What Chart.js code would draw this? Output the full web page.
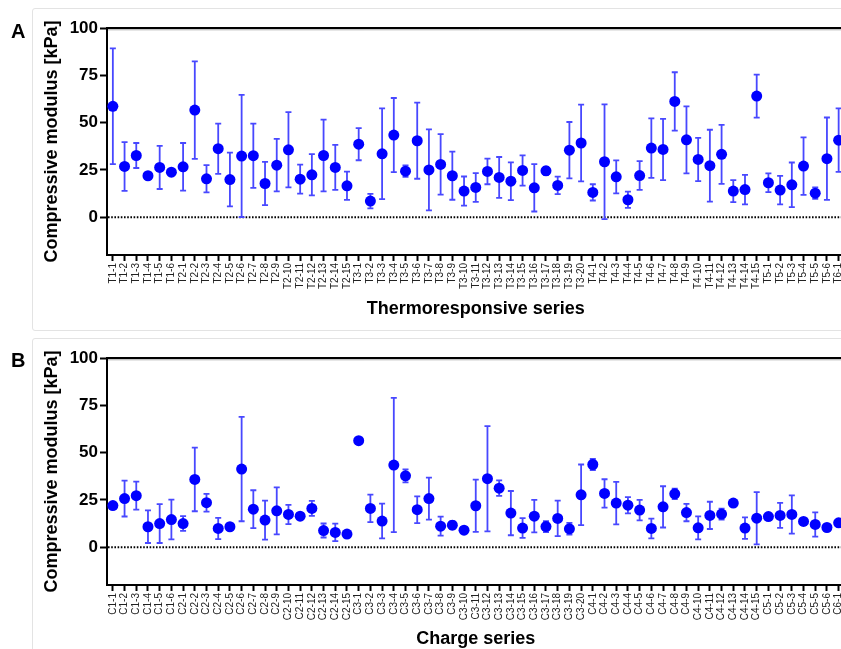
<!DOCTYPE html>
<html><head><meta charset="utf-8">
<script src="https://cdn.jsdelivr.net/npm/chart.js@4.4.0/dist/chart.umd.min.js"></script>
<style>
html,body{margin:0;padding:0;background:#fff;overflow:hidden;width:841px;height:649px;}
.panel{position:absolute;left:32px;width:900px;border:1px solid #e3e3e3;border-radius:3px;}
.wrap{position:absolute;left:0;width:850px;height:330px;}
.lbl{position:absolute;left:11px;font:bold 20px "Liberation Sans",Arial,sans-serif;line-height:1;color:#000;}
</style></head><body>
<div class="panel" style="top:8px;height:321px"></div>
<div class="panel" style="top:338px;height:400px"></div>
<div class="wrap" style="top:0"><canvas id="cA" width="850" height="330"></canvas></div>
<div class="wrap" style="top:330px"><canvas id="cB" width="850" height="330"></canvas></div>
<div class="lbl" style="top:21px">A</div>
<div class="lbl" style="top:350px">B</div>
<script>
const thermoLabels = ["T1-1","T1-2","T1-3","T1-4","T1-5","T1-6",
 "T2-1","T2-2","T2-3","T2-4","T2-5","T2-6","T2-7","T2-8","T2-9","T2-10","T2-11","T2-12","T2-13","T2-14","T2-15",
 "T3-1","T3-2","T3-3","T3-4","T3-5","T3-6","T3-7","T3-8","T3-9","T3-10","T3-11","T3-12","T3-13","T3-14","T3-15","T3-16","T3-17","T3-18","T3-19","T3-20",
 "T4-1","T4-2","T4-3","T4-4","T4-5","T4-6","T4-7","T4-8","T4-9","T4-10","T4-11","T4-12","T4-13","T4-14","T4-15",
 "T5-1","T5-2","T5-3","T5-4","T5-5","T5-6","T6-1"];
const thermoMeans = [58.6,26.8,32.6,21.9,26.3,23.8,
 26.6,56.6,20.3,36.2,19.9,32.3,32.5,17.8,27.5,35.6,20.1,22.4,32.6,26.3,16.6,
 38.6,8.5,33.5,43.4,24.3,40.4,25.0,27.9,21.9,13.8,15.7,24.2,21.0,19.0,24.7,15.5,24.5,16.8,35.4,39.2,
 13.1,29.3,21.3,9.2,22.0,36.5,35.8,61.2,40.9,30.5,27.2,33.2,13.8,14.6,64.0,
 18.2,14.3,17.1,27.0,12.7,30.9,40.7];
const thermoSD = [30.6,12.9,6.6,1.5,11.4,1.5,
 12.6,25.8,7.2,13.3,14.2,32.3,17.0,11.4,13.9,19.9,7.7,10.9,19.0,11.9,7.5,
 8.5,3.8,24.0,19.6,3.0,20.1,21.4,16.0,12.7,7.7,7.6,6.8,10.8,10.0,8.0,12.5,2.1,4.6,14.9,20.3,
 4.3,30.3,8.7,4.3,7.6,15.7,16.2,15.4,17.7,11.4,19.0,15.6,5.8,7.8,11.4,
 5.0,7.5,11.8,15.2,3.0,21.8,16.8];

const chargeLabels = ["C1-1","C1-2","C1-3","C1-4","C1-5","C1-6",
 "C2-1","C2-2","C2-3","C2-4","C2-5","C2-6","C2-7","C2-8","C2-9","C2-10","C2-11","C2-12","C2-13","C2-14","C2-15",
 "C3-1","C3-2","C3-3","C3-4","C3-5","C3-6","C3-7","C3-8","C3-9","C3-10","C3-11","C3-12","C3-13","C3-14","C3-15","C3-16","C3-17","C3-18","C3-19","C3-20",
 "C4-1","C4-2","C4-3","C4-4","C4-5","C4-6","C4-7","C4-8","C4-9","C4-10","C4-11","C4-12","C4-13","C4-14","C4-15",
 "C5-1","C5-2","C5-3","C5-4","C5-5","C5-6","C6-1"];
const chargeMeans = [22.0,25.7,27.2,10.8,12.5,14.6,
 12.5,35.8,23.5,9.9,10.8,41.3,20.1,14.3,19.2,17.3,16.4,20.5,8.8,7.8,6.9,
 56.3,20.5,13.8,43.4,37.7,19.8,25.7,11.1,11.6,9.0,21.9,36.2,31.2,18.0,10.1,16.4,10.9,15.2,9.7,27.7,
 43.7,28.4,23.3,22.2,19.6,9.9,21.3,28.2,18.3,10.2,16.8,17.5,23.3,10.1,15.3,
 16.2,16.8,17.3,13.6,12.0,10.4,12.9];
const chargeSD = [1.2,9.5,7.4,8.6,10.3,10.5,
 3.9,16.8,4.7,5.6,1.0,27.6,10.0,10.3,12.4,5.1,1.5,4.0,3.7,4.6,1.0,
 1.0,7.3,9.2,35.5,3.4,7.1,11.1,5.0,2.1,1.0,13.8,27.8,4.1,11.7,5.2,8.6,2.9,9.4,3.1,16.0,
 2.9,7.5,11.2,4.3,5.4,5.2,10.9,2.8,4.6,6.1,7.2,2.9,1.0,5.7,13.8,
 1.5,6.6,10.1,1.0,6.4,1.0,1.0];

const yTickValues = [0,25,50,75,100];
const FF = '"Liberation Sans", Arial, Helvetica, sans-serif';

const decorPlugin = {
  id: 'decor',
  beforeDatasetsDraw(chart) {
    const {ctx, chartArea: a, scales: {x, y}} = chart;
    ctx.save();
    const y0 = y.getPixelForValue(0);
    ctx.strokeStyle = '#000';
    ctx.lineWidth = 2;
    ctx.setLineDash([1.6, 1.6]);
    ctx.beginPath(); ctx.moveTo(a.left + 1, y0); ctx.lineTo(a.right + 10, y0); ctx.stroke();
    ctx.setLineDash([]);
    const yt = y.getPixelForValue(100);
    ctx.lineWidth = 2.2;
    ctx.beginPath(); ctx.moveTo(a.left - 1, yt); ctx.lineTo(a.right + 10, yt); ctx.stroke();
    ctx.strokeStyle = '#aaa'; ctx.lineWidth = 1;
    ctx.beginPath(); ctx.moveTo(a.left + 1, yt + 1.8); ctx.lineTo(a.right + 10, yt + 1.8); ctx.stroke();
    const ds = chart.data.datasets[0];
    ctx.strokeStyle = '#4848ff';
    ctx.lineWidth = 1.8;
    ds.data.forEach((m, i) => {
      const e = ds.errors[i];
      const px = x.getPixelForValue(i);
      const pt = y.getPixelForValue(m + e);
      const pb = y.getPixelForValue(m - e);
      ctx.beginPath();
      ctx.moveTo(px, pt); ctx.lineTo(px, pb);
      ctx.moveTo(px - 3, pt); ctx.lineTo(px + 3, pt);
      ctx.moveTo(px - 3, pb); ctx.lineTo(px + 3, pb);
      ctx.stroke();
    });
    ctx.restore();
  }
};

function makeChart(id, labels, means, sds, xTitle) {
  return new Chart(document.getElementById(id), {
    type: 'line',
    data: {
      labels: labels,
      datasets: [{
        data: means,
        errors: sds,
        showLine: false,
        pointRadius: 5.5,
        pointBorderWidth: 0,
        pointBackgroundColor: '#0000ff',
        borderColor: '#0000ff',
        clip: false
      }]
    },
    options: {
      responsive: false,
      animation: false,
      layout: {padding: {top: 28, right: 5.5, left: 0, bottom: 0}},
      plugins: {legend: {display: false}, tooltip: {enabled: false}},
      scales: {
        x: {
          type: 'category',
          offset: true,
          grid: {display: true, drawOnChartArea: false, drawTicks: true, tickLength: 6, tickWidth: 2, tickColor: '#000', offset: false},
          border: {display: true, color: '#000', width: 2},
          ticks: {autoSkip: false, maxRotation: 90, minRotation: 90, padding: 2, color: '#222', font: {family: FF, size: 10}},
          title: {display: true, text: xTitle, color: '#000', font: {family: FF, size: 18, weight: 'bold'}, padding: {top: 0, bottom: 10}},
          afterFit(s) { s.height = 75; s.paddingLeft = 0; s.paddingRight = 0; }
        },
        y: {
          min: -20, max: 100,
          afterBuildTicks(s) { s.ticks = yTickValues.map(v => ({value: v})); },
          grid: {display: true, drawOnChartArea: false, drawTicks: true, tickLength: 7, tickWidth: 2, tickColor: '#000'},
          border: {display: true, color: '#000', width: 2},
          ticks: {padding: 2, color: '#000', font: {family: FF, size: 17, weight: 'bold'}},
          title: {display: true, text: 'Compressive modulus [kPa]', color: '#000', font: {family: FF, size: 18, weight: 'bold'}, padding: {top: 41, bottom: 0}},
          afterFit(s) { s.width = 107; }
        }
      }
    },
    plugins: [decorPlugin]
  });
}

makeChart('cA', thermoLabels, thermoMeans, thermoSD, 'Thermoresponsive series');
makeChart('cB', chargeLabels, chargeMeans, chargeSD, 'Charge series');
</script>
</body></html>
